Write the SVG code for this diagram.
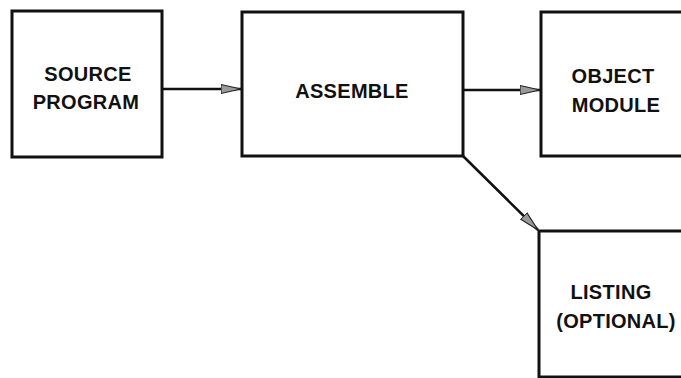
<svg xmlns="http://www.w3.org/2000/svg" width="681" height="378" viewBox="0 0 681 378">
<defs>
<style>
.box{fill:#fff;stroke:#111;stroke-width:3}
.lbl{font-family:"Liberation Sans",Arial,sans-serif;font-weight:bold;font-size:20px;letter-spacing:0.3px;fill:#111;text-anchor:middle}
.conn{stroke:#111;stroke-width:2.5;fill:none}
</style>
<marker id="ah" markerUnits="userSpaceOnUse" markerWidth="22" markerHeight="12" refX="20" refY="6" orient="auto" viewBox="0 0 22 12">
<path d="M0,1.5 L20,6 L0,10.5 Z" fill="#9a9a9a" stroke="#222" stroke-width="1.2"/>
</marker>
</defs>
<rect width="681" height="378" fill="#fff"/>
<g id="connectors">
<line class="conn" x1="162" y1="89" x2="241" y2="89" marker-end="url(#ah)"/>
<line class="conn" x1="463" y1="90" x2="540" y2="90" marker-end="url(#ah)"/>
<line class="conn" x1="463" y1="156" x2="538" y2="230" marker-end="url(#ah)"/>
</g>
<g id="source">
<rect class="box" x="12" y="11" width="150" height="146"/>
<text class="lbl" x="88" y="81">SOURCE</text>
<text class="lbl" x="86" y="109">PROGRAM</text>
</g>
<g id="assemble">
<rect class="box" x="242" y="12" width="221" height="144"/>
<text class="lbl" x="352" y="98">ASSEMBLE</text>
</g>
<g id="object">
<rect class="box" x="541" y="12" width="160" height="144"/>
<text class="lbl" x="613" y="83">OBJECT</text>
<text class="lbl" x="616" y="112">MODULE</text>
</g>
<g id="listing">
<rect class="box" x="539" y="231" width="160" height="146"/>
<text class="lbl" x="611" y="299">LISTING</text>
<text class="lbl" x="616" y="328">(OPTIONAL)</text>
</g>
</svg>
